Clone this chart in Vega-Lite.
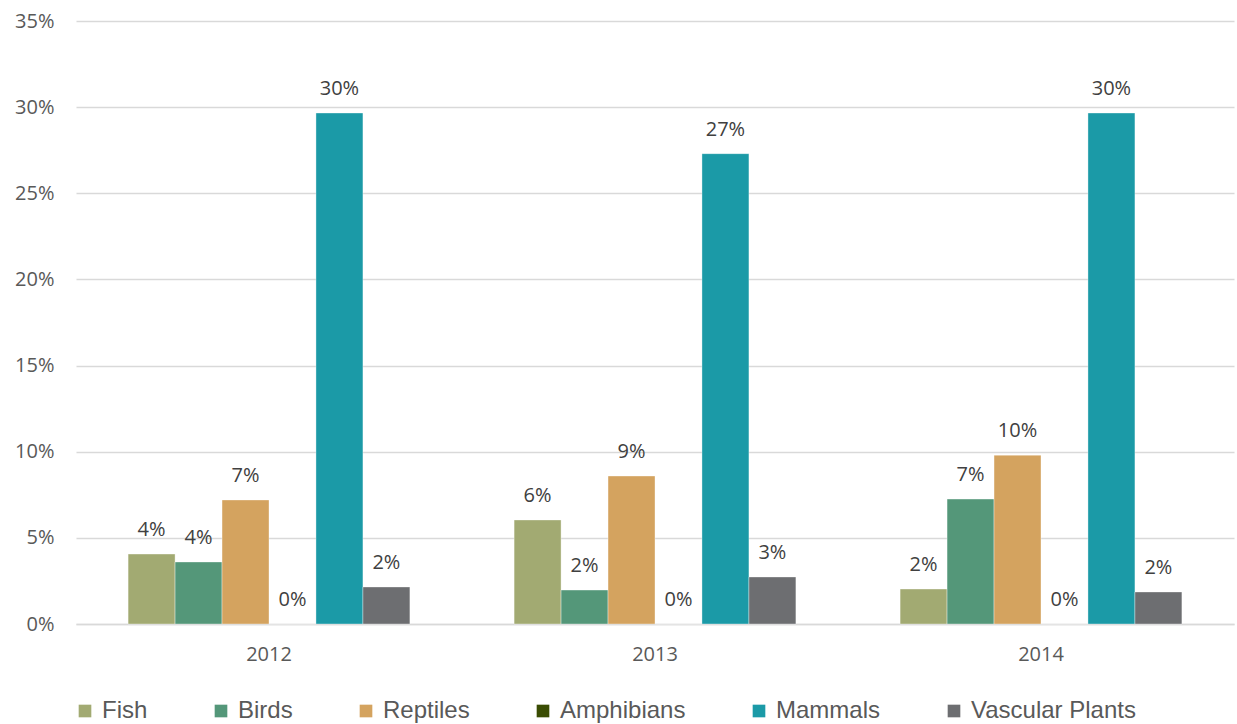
{
  "$schema": "https://vega.github.io/schema/vega-lite/v6.json",
  "width": 1158,
  "height": 603,
  "autosize": {"type": "none"},
  "padding": {"left": 76, "top": 21, "right": 3, "bottom": 100},
  "background": "white",
  "config": {"view": {"stroke": null}},
  "data": {"values": [
    {"year": "2012", "group": "Fish", "value": 0.0406},
    {"year": "2012", "group": "Birds", "value": 0.036},
    {"year": "2012", "group": "Reptiles", "value": 0.072},
    {"year": "2012", "group": "Amphibians", "value": 0},
    {"year": "2012", "group": "Mammals", "value": 0.2966},
    {"year": "2012", "group": "Vascular Plants", "value": 0.0215},
    {"year": "2013", "group": "Fish", "value": 0.0604},
    {"year": "2013", "group": "Birds", "value": 0.0197},
    {"year": "2013", "group": "Reptiles", "value": 0.0859},
    {"year": "2013", "group": "Amphibians", "value": 0},
    {"year": "2013", "group": "Mammals", "value": 0.273},
    {"year": "2013", "group": "Vascular Plants", "value": 0.0273},
    {"year": "2014", "group": "Fish", "value": 0.0203},
    {"year": "2014", "group": "Birds", "value": 0.0725},
    {"year": "2014", "group": "Reptiles", "value": 0.098},
    {"year": "2014", "group": "Amphibians", "value": 0},
    {"year": "2014", "group": "Mammals", "value": 0.2966},
    {"year": "2014", "group": "Vascular Plants", "value": 0.0186}
  ]},
  "encoding": {
    "x": {"field": "year", "type": "nominal",
      "scale": {"paddingInner": 0.27, "paddingOuter": 0.135},
      "axis": {"title": null, "labelAngle": 0, "ticks": false, "domainColor": "#D9D9D9", "domainWidth": 1.5,
        "labelFont": "Open Sans", "labelFontSize": 20, "labelColor": "#595959", "labelPadding": 20}},
    "xOffset": {"field": "group", "type": "nominal",
      "sort": ["Fish", "Birds", "Reptiles", "Amphibians", "Mammals", "Vascular Plants"],
      "scale": {"paddingInner": 0, "paddingOuter": 0}},
    "y": {"field": "value", "type": "quantitative",
      "scale": {"domain": [0, 0.35], "nice": false},
      "axis": {"title": null, "format": ".0%", "values": [0, 0.05, 0.1, 0.15, 0.2, 0.25, 0.3, 0.35],
        "domain": false, "ticks": false, "gridColor": "#D9D9D9", "gridWidth": 1.5,
        "labelFont": "Open Sans", "labelFontSize": 20, "labelColor": "#595959", "labelPadding": 22}}
  },
  "layer": [
    {
      "mark": {"type": "bar", "stroke": "#ffffff", "strokeWidth": 0.6, "strokeOpacity": 0.6},
      "encoding": {
        "color": {"field": "group", "type": "nominal",
          "sort": ["Fish", "Birds", "Reptiles", "Amphibians", "Mammals", "Vascular Plants"],
          "scale": {"domain": ["Fish", "Birds", "Reptiles", "Amphibians", "Mammals", "Vascular Plants"],
            "range": ["#A2AA72", "#549779", "#D4A35F", "#3A4C03", "#1B9AA7", "#6D6E71"]},
          "legend": {"title": null, "orient": "none", "direction": "horizontal", "columns": 6,
            "legendX": -3, "legendY": 678, "symbolType": "square", "symbolSize": 160,
            "symbolStrokeWidth": 0, "labelFont": "Liberation Sans", "labelFontSize": 24,
            "labelColor": "#595959", "columnPadding": 61, "labelOffset": 5, "labelLimit": 300}}
      }
    },
    {
      "mark": {"type": "text", "baseline": "bottom", "dy": -14, "font": "Open Sans", "fontSize": 20, "color": "#404040"},
      "encoding": {
        "text": {"field": "value", "type": "quantitative", "format": ".0%"}
      }
    }
  ]
}
